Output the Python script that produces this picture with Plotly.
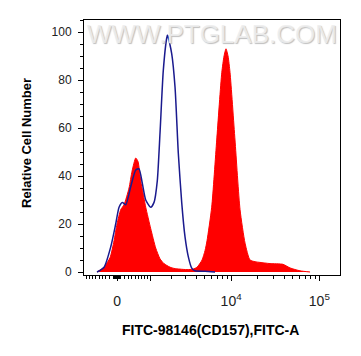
import numpy as np
import plotly.graph_objects as go

# Scaled FITC axis positions (biexponential display units, 10^4 -> 4, 10^5 -> 5)
red_x = [2.482, 2.562, 2.630, 2.675, 2.709, 2.751, 2.788, 2.845, 2.879, 2.921,
         2.947, 2.977, 3.003, 3.034, 3.091, 3.147, 3.196, 3.241, 3.309, 3.354,
         3.422, 3.502, 3.570, 3.615, 3.672, 3.706, 3.728, 3.781, 3.838, 3.895,
         3.921, 3.943, 3.966, 3.989, 4.045, 4.102, 4.159, 4.215, 4.272, 4.328,
         4.442, 4.589, 4.668, 4.781, 4.895]
red_y = [0, 2, 6, 13, 20, 26, 28, 35, 42, 47.5,
         46, 38, 33, 27, 18, 10, 5.5, 3.5, 2, 1.5,
         1.2, 1, 1.2, 2, 5, 9, 13, 27, 55, 83,
         90, 93, 90, 83, 55, 26, 12, 5, 4.3, 4,
         3.5, 3.2, 1.7, 0.5, 0]

blue_x = [2.482, 2.562, 2.638, 2.694, 2.732, 2.769, 2.807, 2.864, 2.921, 2.958,
          2.995, 3.034, 3.091, 3.128, 3.165, 3.196, 3.233, 3.272, 3.281, 3.328,
          3.366, 3.403, 3.442, 3.479, 3.516, 3.555, 3.592, 3.706, 3.819]
blue_y = [0, 2, 10.5, 20, 27, 29, 28, 35.5, 42.5, 43,
          37, 30, 27, 29, 38, 58, 84, 97.5, 98.7, 91,
          77, 49.5, 28.7, 14.6, 6.4, 1.6, 0.5, 0.3, 0]

major_tick_values = [0, 1e3, 1e4, 1e5]
major_tick_labels = ["0", "", "10<sup>4</sup>", "10<sup>5</sup>"]
minor_tick_values = ([-v for v in range(10, 100, 10)] + list(range(10, 100, 10)) +
                     [-v for v in range(100, 1000, 100)] + list(range(100, 1000, 100)) +
                     list(range(2000, 10000, 1000)) + list(range(20000, 100000, 10000)))

C = 512.0


def scale(v):
    v = np.asarray(v, dtype=float)
    return np.log10(C) + np.arcsinh(v / (2 * C)) / np.log(10)


FONT = "Liberation Sans, Arial, sans-serif"

fig = go.Figure()
fig.add_trace(go.Scatter(x=red_x, y=red_y, mode="lines", fill="tozeroy",
                         line=dict(color="#ff0000", width=1, shape="spline", smoothing=0.6),
                         fillcolor="#ff0000", showlegend=False, hoverinfo="skip"))
fig.add_trace(go.Scatter(x=blue_x, y=blue_y, mode="lines",
                         line=dict(color="#1a1a8e", width=1.5, shape="spline", smoothing=0.6),
                         showlegend=False, hoverinfo="skip"))

fig.add_annotation(text="WWW.PTGLAB.COM", x=0.5, y=0.945, xref="paper", yref="paper",
                   xanchor="center", yanchor="middle", showarrow=False,
                   font=dict(family=FONT, size=26, color="rgba(238,238,238,0.9)",
                             shadow="1px 1px 1px #b8b8b8"))

fig.add_annotation(text="Relative Cell Number", x=-0.2266, y=0.5176, xref="paper", yref="paper",
                   xanchor="center", yanchor="middle", textangle=-90, showarrow=False,
                   font=dict(family=FONT, size=13, color="black", weight="bold"))
fig.add_annotation(text="FITC-98146(CD157),FITC-A", x=0.496, y=-0.2157, xref="paper", yref="paper",
                   xanchor="center", yanchor="middle", showarrow=False,
                   font=dict(family=FONT, size=14, color="black", weight="bold"))

fig.update_layout(
    width=361, height=356,
    margin=dict(l=84, r=21, t=20, b=81),
    paper_bgcolor="white", plot_bgcolor="white",
    font=dict(family=FONT, color="#222222"),
    xaxis=dict(
        range=[2.335, 5.234], showgrid=False, zeroline=False, automargin=False,
        showline=True, linecolor="black", linewidth=1, mirror=True,
        tickmode="array", tickvals=list(scale(major_tick_values)), ticktext=major_tick_labels,
        ticks="outside", ticklen=5, tickcolor="black", tickwidth=1,
        tickfont=dict(size=14, color="#222222"), ticklabelstandoff=8,
        minor=dict(tickmode="array", tickvals=list(scale(minor_tick_values)),
                   ticks="outside", ticklen=3, tickcolor="black", tickwidth=1, showgrid=False),
    ),
    yaxis=dict(
        range=[-1.25, 105], showgrid=False, zeroline=False, automargin=False,
        showline=True, linecolor="black", linewidth=1, mirror=True,
        tickmode="array", tickvals=[0, 20, 40, 60, 80, 100],
        ticks="outside", ticklen=5, tickcolor="black", tickwidth=1,
        tickfont=dict(size=12, color="#222222"), ticklabelstandoff=4,
        minor=dict(dtick=5, tick0=0, ticks="outside", ticklen=3, tickcolor="black",
                   tickwidth=1, showgrid=False),
    ),
)

fig.write_html("out.html", config={"displayModeBar": False},
               post_script="document.body.style.margin='0';")
